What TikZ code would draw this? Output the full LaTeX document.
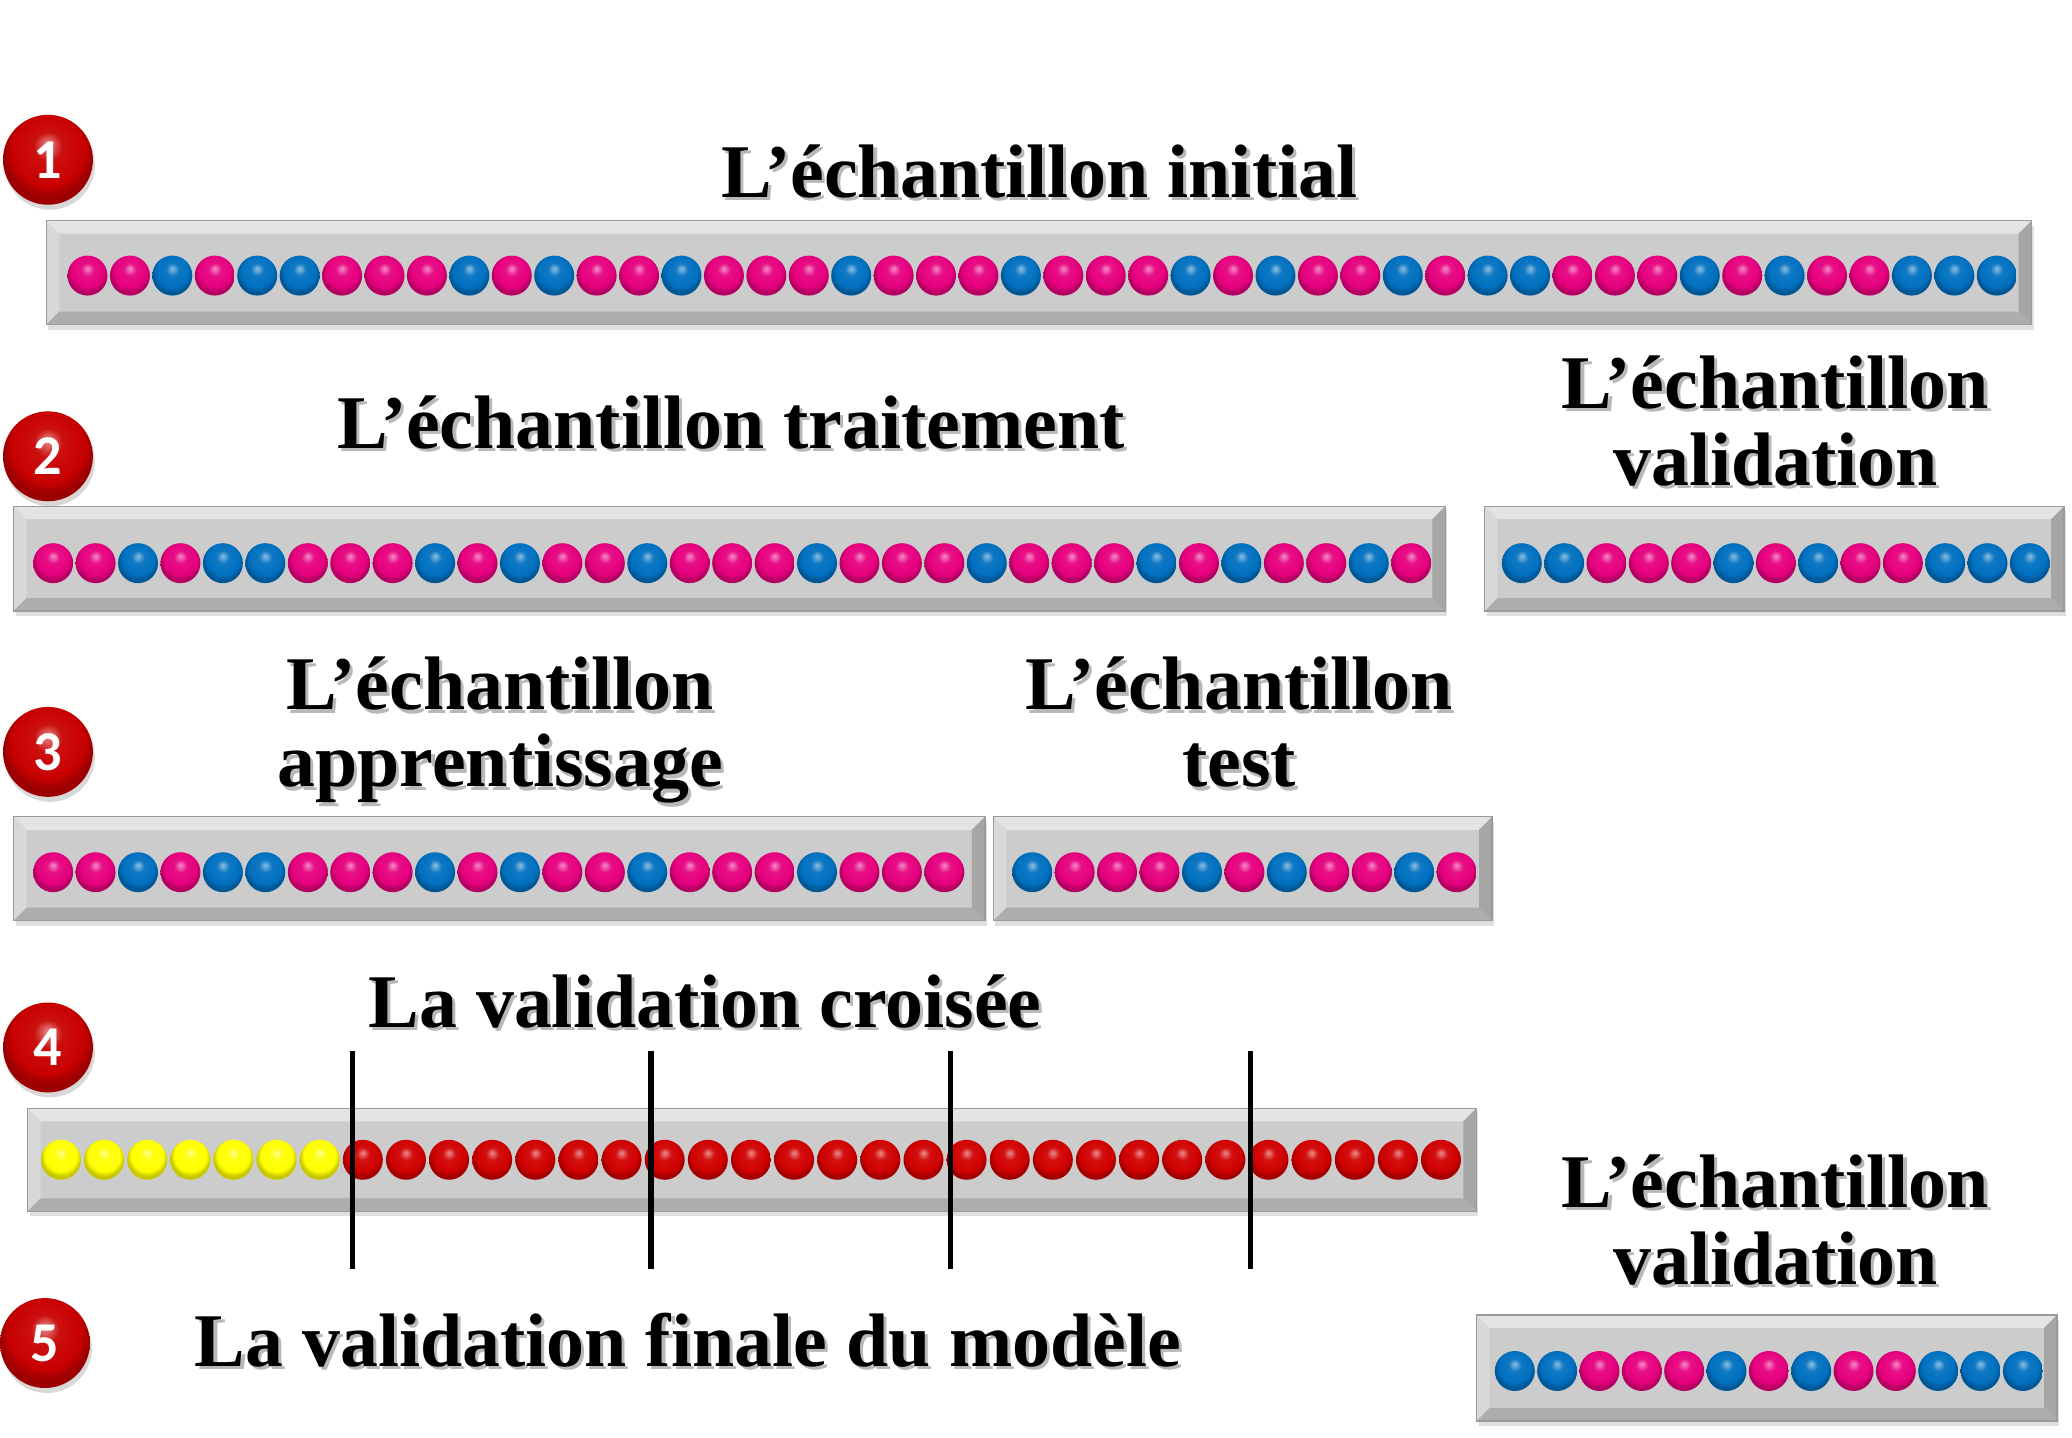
\documentclass[tikz,border=0pt]{standalone}
\usepackage{fontspec}
\setmainfont{Liberation Serif}
\newfontfamily\numfont{Carlito}
\usepackage{tikz}
\usetikzlibrary{shadows}

\definecolor{bead-p}{HTML}{E6007E}
\definecolor{bead-b}{HTML}{0070C0}
\definecolor{bead-r}{HTML}{D00000}
\definecolor{bead-y}{HTML}{FFFF00}
\definecolor{badgered}{HTML}{C80000}
\definecolor{barmid}{HTML}{CCCCCC}
\definecolor{barlight}{HTML}{E4E4E4}
\definecolor{barleft}{HTML}{D8D8D8}
\definecolor{barright}{HTML}{A6A6A6}
\definecolor{barbottom}{HTML}{ADADAD}
\definecolor{baredge}{HTML}{9A9A9A}

\makeatletter
\pgfdeclareradialshading[tikz@ball]{glossy}{\pgfpoint{0bp}{9bp}}{%
  color(0bp)=(tikz@ball!45!white); color(8bp)=(tikz@ball!94!white);
  color(20bp)=(tikz@ball); color(25bp)=(tikz@ball!78!black);
  color(50bp)=(tikz@ball!78!black)}
\makeatother

\newcommand{\titlesize}{\fontsize{21.6pt}{21.9pt}\selectfont}
\newcommand{\shtxt}[1]{\leavevmode\rlap{\kern0.9pt\raisebox{-0.9pt}{\textcolor{black!28}{#1}}}#1}
% #1 name, #2 x of first bead, #3 y, #4 step, #5 colours
\newcommand{\beadrow}[5]{%
  \foreach \c [count=\i] in {#5}
    \node[bead, ball color=bead-\c, shading=glossy] (#1-\i) at ({#2+(\i-1)*#4},#3) {};
}

\begin{document}
\begin{tikzpicture}[x=0.01cm, y=-0.01cm]
\tikzset{
    bar/.style={rectangle, inner sep=0pt, fill=barmid, draw=baredge, line width=0.4pt,
      drop shadow={shadow xshift=0.02cm, shadow yshift=-0.05cm, opacity=0.25},
      path picture={
        \def\pbb{path picture bounding box}
        \fill[barlight] (\pbb.north west) -- (\pbb.north east) -- ([shift={(-0.13cm,-0.13cm)}]\pbb.north east) -- ([shift={(0.13cm,-0.13cm)}]\pbb.north west) -- cycle;
        \fill[barleft] (\pbb.north west) -- (\pbb.south west) -- ([shift={(0.13cm,0.13cm)}]\pbb.south west) -- ([shift={(0.13cm,-0.13cm)}]\pbb.north west) -- cycle;
        \fill[barright] (\pbb.north east) -- (\pbb.south east) -- ([shift={(-0.13cm,0.13cm)}]\pbb.south east) -- ([shift={(-0.13cm,-0.13cm)}]\pbb.north east) -- cycle;
        \fill[barbottom] (\pbb.south west) -- (\pbb.south east) -- ([shift={(-0.13cm,0.13cm)}]\pbb.south east) -- ([shift={(0.13cm,0.13cm)}]\pbb.south west) -- cycle;
      }},
    bead/.style={circle, inner sep=0pt, minimum size=0.40cm},
    badge/.style={circle, inner sep=0pt, minimum size=0.9cm, ball color=badgered, shading=glossy,
      drop shadow={shadow xshift=0.02cm, shadow yshift=-0.05cm, opacity=0.3},
      text=white, font=\numfont\bfseries\fontsize{16pt}{16pt}\selectfont},
    heading/.style={font=\titlesize\bfseries, align=center, anchor=base, inner sep=0pt},
    cut line/.style={line width=0.052cm}
}
\path[fill=white] (0,0) rectangle (2072,1440);

% step numbers
\node[badge] (n1) at (45,160) {1};
\node[badge] (n2) at (45,457) {2};
\node[badge] (n3) at (45,753) {3};
\node[badge] (n4) at (45,1049) {4};
\node[badge] (n5) at (42,1345) {5};

% bars
\node[bar, minimum width=19.87cm, minimum height=1.04cm] (bar1) at (1037.5,273) {};
\node[bar, minimum width=14.33cm, minimum height=1.05cm] (bar2a) at (727.5,559.5) {};
\node[bar, minimum width=5.80cm, minimum height=1.05cm] (bar2b) at (1774,559.5) {};
\node[bar, minimum width=9.72cm, minimum height=1.04cm] (bar3a) at (497,870) {};
\node[bar, minimum width=4.99cm, minimum height=1.04cm] (bar3b) at (1241.5,870) {};
\node[bar, minimum width=14.50cm, minimum height=1.03cm] (bar4) at (750,1161.5) {};
\node[bar, minimum width=5.81cm, minimum height=1.06cm] (bar5) at (1766.5,1370) {};

% headings (base = last line)
\node[heading] (t-init) at (1038,198) {\shtxt{L’échantillon initial}};
\node[heading] (t-trait) at (729,449) {\shtxt{L’échantillon traitement}};
\node[heading] (t-valid) at (1775,486) {\shtxt{L’échantillon}\\\shtxt{validation}};
\node[heading] (t-appr) at (498,788) {\shtxt{L’échantillon}\\\shtxt{apprentissage}};
\node[heading] (t-test) at (1238,788) {\shtxt{L’échantillon}\\\shtxt{test}};
\node[heading] (t-cross) at (703,1029) {\shtxt{La validation croisée}};
\node[heading] (t-final) at (686,1368) {\shtxt{La validation finale du modèle}};
\node[heading] (t-valid2) at (1775,1286) {\shtxt{L’échantillon}\\\shtxt{validation}};

% beads
\beadrow{r1}{84.6}{276}{42.49}{p,p,b,p,b,b,p,p,p,b,p,b,p,p,b,p,p,p,b,p,p,p,b,p,p,p,b,p,b,p,p,b,p,b,b,p,p,p,b,p,b,p,p,b,b,b}
\beadrow{r2a}{50.2}{564}{42.5}{p,p,b,p,b,b,p,p,p,b,p,b,p,p,b,p,p,p,b,p,p,p,b,p,p,p,b,p,b,p,p,b,p}
\beadrow{r2b}{1521}{564}{42.4}{b,b,p,p,p,b,p,b,p,p,b,b,b}
\beadrow{r3a}{50.2}{873.5}{42.5}{p,p,b,p,b,b,p,p,p,b,p,b,p,p,b,p,p,p,b,p,p,p}
\beadrow{r3b}{1030.7}{873.5}{42.5}{b,p,p,p,b,p,b,p,p,b,p}
\beadrow{r4}{58}{1161.5}{43.19}{y,y,y,y,y,y,y,r,r,r,r,r,r,r,r,r,r,r,r,r,r,r,r,r,r,r,r,r,r,r,r,r,r}
\beadrow{r5}{1514}{1373}{42.4}{b,b,p,p,p,b,p,b,p,p,b,b,b}

% folds
\foreach \x [count=\k] in {350,649,949,1249} {
  \coordinate (cut\k-top) at (\x,1053);
  \coordinate (cut\k-bot) at (\x,1271);
  \draw[cut line] (cut\k-top) -- (cut\k-bot);
}
\end{tikzpicture}
\end{document}
